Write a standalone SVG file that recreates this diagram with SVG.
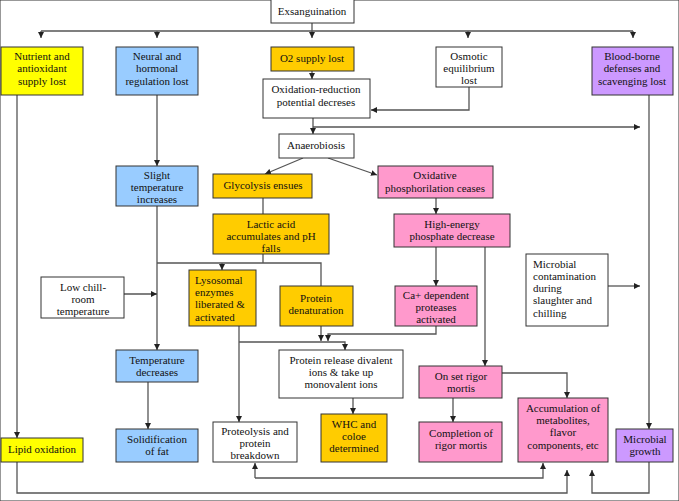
<svg xmlns="http://www.w3.org/2000/svg" width="679" height="501" viewBox="0 0 679 501" font-family="'Liberation Serif', 'DejaVu Serif', serif">
<defs>
<marker id="arr" viewBox="0 0 6 6" refX="6" refY="3" markerWidth="6" markerHeight="6" markerUnits="userSpaceOnUse" orient="auto">
<path d="M0,0 L6,3 L0,6 z" fill="#222"/>
</marker>
</defs>
<style>
rect{stroke:#333;stroke-width:1}
.w{fill:#fff}.y{fill:#ffff00}.b{fill:#99ccff}.o{fill:#ffcc00}.p{fill:#ff99cc}.v{fill:#cc99ff}
text{font-family:'Liberation Serif','DejaVu Serif',serif;font-size:11px;fill:#111;text-anchor:middle}
text.l{text-anchor:start}
#connectors path{fill:none;stroke:#555;stroke-width:1.3}
#connectors path.a{marker-end:url(#arr)}
</style>
<rect x="0" y="0" width="679" height="501" fill="#fff" stroke="none"/>
<g id="connectors">
<path d="M41,31 H633"/>
<path class="a" d="M41,31 V38"/>
<path class="a" d="M157,31 V38"/>
<path class="a" d="M468,31 V38"/>
<path class="a" d="M633,31 V38"/>
<path class="a" d="M312,23 V38"/>
<path class="a" d="M312,71 V79"/>
<path class="a" d="M469,87 V110 H371"/>
<path class="a" d="M313,118 V134"/>
<path class="a" d="M313,127 H640"/>
<path class="a" d="M303,158 L265,174"/>
<path class="a" d="M328,158 L377,175"/>
<path d="M263,198 V214"/>
<path class="a" d="M436,198 V214"/>
<path class="a" d="M436,247 V286"/>
<path class="a" d="M485,247 V366"/>
<path class="a" d="M157,95 V166"/>
<path class="a" d="M157,206 V350"/>
<path d="M263,254 V263"/>
<path d="M157,263 H321 V286"/>
<path class="a" d="M222,263 V270"/>
<path class="a" d="M124,294 H157"/>
<path class="a" d="M239,326 V422"/>
<path class="a" d="M239,342 H345 V350"/>
<path class="a" d="M321,326 V341"/>
<path class="a" d="M436,326 V334 H328 V341"/>
<path class="a" d="M353,398 V414"/>
<path class="a" d="M148,382 V429"/>
<path class="a" d="M17,95 V438"/>
<path class="a" d="M17,462 V493 H567 V470"/>
<path class="a" d="M255,478 V463"/>
<path class="a" d="M255,478 H543 V463"/>
<path class="a" d="M649,462 V493 H592 V470"/>
<path class="a" d="M649,95 V429"/>
<path class="a" d="M502,373 H567 V398"/>
<path class="a" d="M453,398 V422"/>
<path class="a" d="M608,286 H640"/>
</g>
<g id="exsanguination"><rect class="w" x="271" y="-1" width="83" height="24"/><text x="312" y="15">Exsanguination</text></g>
<g id="nutrient"><rect class="y" x="1" y="47" width="82" height="48"/><text x="42" y="60">Nutrient and</text><text x="42" y="72">antioxidant</text><text x="42" y="85">supply lost</text></g>
<g id="neural"><rect class="b" x="116" y="47" width="82" height="48"/><text x="157" y="60">Neural and</text><text x="157" y="72">hormonal</text><text x="157" y="85">regulation lost</text></g>
<g id="o2"><rect class="o" x="271" y="47" width="83" height="24"/><text x="312" y="62">O2 supply lost</text></g>
<g id="osmotic"><rect class="w" x="436" y="47" width="66" height="40"/><text x="469" y="60">Osmotic</text><text x="469" y="72">equilibrium</text><text x="469" y="84">lost</text></g>
<g id="bloodborne"><rect class="v" x="592" y="47" width="81" height="48"/><text x="632" y="60">Blood-borne</text><text x="632" y="72">defenses and</text><text x="632" y="85">scavenging lost</text></g>
<g id="oxred"><rect class="w" x="263" y="79" width="107" height="39"/><text x="316" y="93">Oxidation-reduction</text><text x="316" y="106">potential decreses</text></g>
<g id="anaerobiosis"><rect class="w" x="279" y="134" width="75" height="24"/><text x="316" y="149">Anaerobiosis</text></g>
<g id="glycolysis"><rect class="o" x="213" y="174" width="99" height="24"/><text x="263" y="189">Glycolysis ensues</text></g>
<g id="oxphos"><rect class="p" x="378" y="166" width="115" height="32"/><text x="435" y="179">Oxidative</text><text x="435" y="192">phosphorilation ceases</text></g>
<g id="slight"><rect class="b" x="116" y="166" width="82" height="40"/><text x="157" y="179">Slight</text><text x="157" y="191">temperature</text><text x="157" y="203">increases</text></g>
<g id="lactic"><rect class="o" x="213" y="214" width="116" height="40"/><text x="271" y="228">Lactic acid</text><text x="271" y="240">accumulates and pH</text><text x="271" y="252">falls</text></g>
<g id="highenergy"><rect class="p" x="394" y="214" width="116" height="33"/><text x="452" y="228">High-energy</text><text x="452" y="240">phosphate decrease</text></g>
<g id="microcont"><rect class="w" x="526" y="254" width="82" height="72"/><text class="l" x="533" y="268">Microbial</text><text class="l" x="533" y="280">contamination</text><text class="l" x="533" y="292">during</text><text class="l" x="533" y="304">slaughter and</text><text class="l" x="533" y="317">chilling</text></g>
<g id="lowchill"><rect class="w" x="41" y="277" width="83" height="41"/><text x="83" y="291">Low chill-</text><text x="83" y="303">room</text><text x="83" y="315">temperature</text></g>
<g id="lysosomal"><rect class="o" x="189" y="270" width="67" height="56"/><text class="l" x="195" y="284">Lysosomal</text><text class="l" x="195" y="296">enzymes</text><text class="l" x="195" y="308">liberated &amp;</text><text class="l" x="195" y="321">activated</text></g>
<g id="denat"><rect class="o" x="280" y="286" width="73" height="40"/><text x="316" y="302">Protein</text><text x="316" y="314">denaturation</text></g>
<g id="ca"><rect class="p" x="395" y="286" width="82" height="40"/><text x="436" y="299">Ca+ dependent</text><text x="436" y="311">proteases</text><text x="436" y="323">activated</text></g>
<g id="tempdec"><rect class="b" x="116" y="350" width="82" height="32"/><text x="157" y="364">Temperature</text><text x="157" y="376">decreases</text></g>
<g id="release"><rect class="w" x="279" y="350" width="124" height="48"/><text x="341" y="364">Protein release divalent</text><text x="341" y="376">ions &amp; take up</text><text x="341" y="388">monovalent ions</text></g>
<g id="onset"><rect class="p" x="419" y="366" width="83" height="32"/><text x="461" y="380">On set rigor</text><text x="461" y="392">mortis</text></g>
<g id="accum"><rect class="p" x="518" y="398" width="90" height="64"/><text x="563" y="412">Accumulation of</text><text x="563" y="424">metabolites,</text><text x="563" y="436">flavor</text><text x="563" y="449">components, etc</text></g>
<g id="whc"><rect class="o" x="321" y="414" width="66" height="48"/><text x="354" y="428">WHC and</text><text x="354" y="440">coloe</text><text x="354" y="452">determined</text></g>
<g id="proteolysis"><rect class="w" x="213" y="422" width="84" height="40"/><text x="255" y="435">Proteolysis and</text><text x="255" y="447">protein</text><text x="255" y="459">breakdown</text></g>
<g id="completion"><rect class="p" x="419" y="422" width="83" height="40"/><text x="461" y="437">Completion of</text><text x="461" y="449">rigor mortis</text></g>
<g id="solid"><rect class="b" x="116" y="429" width="82" height="33"/><text x="157" y="443">Solidification</text><text x="157" y="455">of fat</text></g>
<g id="lipid"><rect class="y" x="1" y="438" width="82" height="24"/><text x="42" y="453">Lipid oxidation</text></g>
<g id="microgrowth"><rect class="v" x="616" y="429" width="57" height="33"/><text x="645" y="443">Microbial</text><text x="645" y="455">growth</text></g>
</svg>
